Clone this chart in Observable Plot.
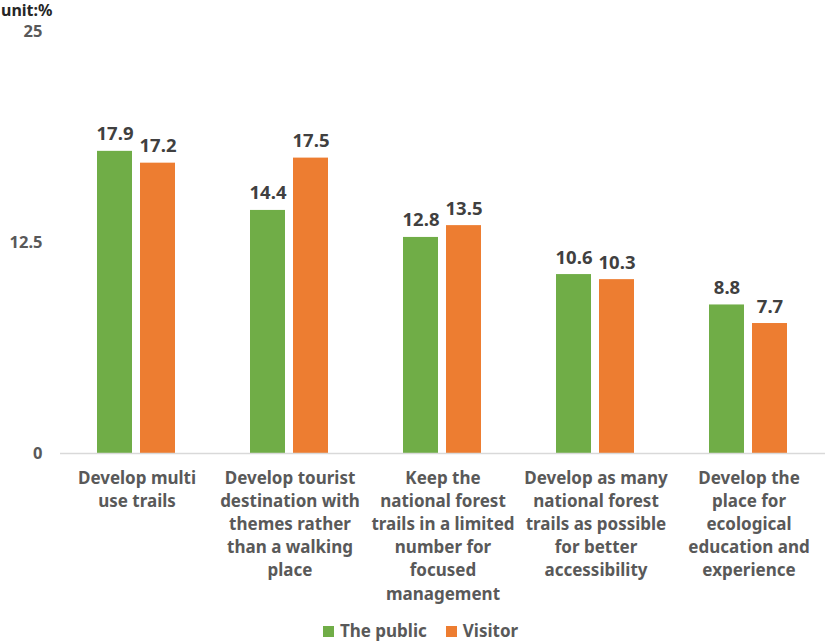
<!DOCTYPE html>
<html>
<head>
<meta charset="utf-8">
<script src="https://cdn.jsdelivr.net/npm/d3@7"></script>
<script src="https://cdn.jsdelivr.net/npm/@observablehq/plot@0.6"></script>
<style>
  body { margin: 0; background: #fff; font-family: "Noto Sans", sans-serif; }
  #wrap { position: relative; width: 827px; }
  #unit { position: absolute; left: 1px; top: 2px; font-size: 16px; line-height: 16px; font-weight: bold; color: #262626; }
  #legend { display: flex; justify-content: center; gap: 19px; margin-top: 9px; padding-left: 14px;
            font-size: 17px; font-weight: bold; color: #595959; }
  #legend span.sw { display: inline-block; width: 11px; height: 11px; margin-right: 6px; vertical-align: middle; position: relative; top: -1px; }
</style>
</head>
<body>
<div id="wrap">
  <div id="unit">unit:%</div>
  <div id="chart"></div>
  <div id="legend"></div>
</div>
<script>
const categories = [
  "Develop multi use trails",
  "Develop tourist destination with themes rather than a walking place",
  "Keep the national forest trails in a limited number for focused management",
  "Develop as many national forest trails as possible for better accessibility",
  "Develop the place for ecological education and experience"
];
const categoryLabels = [
  "Develop multi\nuse trails",
  "Develop tourist\ndestination with\nthemes rather\nthan a walking\nplace",
  "Keep the\nnational forest\ntrails in a limited\nnumber for\nfocused\nmanagement",
  "Develop as many\nnational forest\ntrails as possible\nfor better\naccessibility",
  "Develop the\nplace for\necological\neducation and\nexperience"
];
const seriesNames = ["The public", "Visitor"];
const publicValues = [17.9, 14.4, 12.8, 10.6, 8.8];
const visitorValues = [17.2, 17.5, 13.5, 10.3, 7.7];
const seriesColors = ["#70AD47", "#ED7D31"];
const yTicks = [0, 12.5, 25];

const data = [];
categories.forEach((c, i) => {
  data.push({category: c, series: seriesNames[0], value: publicValues[i]});
  data.push({category: c, series: seriesNames[1], value: visitorValues[i]});
});
const labelOf = new Map(categories.map((c, i) => [c, categoryLabels[i]]));

const plot = Plot.plot({
  width: 827,
  height: 610,
  marginLeft: 60,
  marginRight: 2,
  marginTop: 31,
  marginBottom: 157,
  style: {fontFamily: "Noto Sans, sans-serif", background: "#fff"},
  fx: {domain: categories, padding: 0, axis: null},
  x: {domain: seriesNames, paddingInner: 0.186, paddingOuter: 0.872, axis: null},
  y: {domain: [0, 25], axis: null},
  color: {domain: seriesNames, range: seriesColors},
  marks: [
    Plot.axisY({ticks: yTicks, tickSize: 0, tickPadding: 18, tickFormat: d => String(d), label: null,
                fontSize: 16.5, fontWeight: "bold", fill: "#595959"}),
    Plot.barY(data, {fx: "category", x: "series", y: "value", fill: "series"}),
    Plot.ruleY([0], {stroke: "#d9d9d9", strokeWidth: 1.3}),
    Plot.text(data, {fx: "category", x: "series", y: "value", text: d => d.value.toFixed(1),
                     lineAnchor: "bottom", dy: -11, fontSize: 18.5, fontWeight: "bold", fill: "#404040"}),
    Plot.text(categories, {fx: d => d, text: d => labelOf.get(d), frameAnchor: "bottom",
                           lineAnchor: "top", dy: 14, lineHeight: 1.36, fontSize: 17, fontWeight: "bold", fill: "#595959"})
  ]
});
document.getElementById("chart").appendChild(plot);

const legend = document.getElementById("legend");
seriesNames.forEach((s, i) => {
  const item = document.createElement("div");
  item.innerHTML = `<span class="sw" style="background:${seriesColors[i]}"></span>${s}`;
  legend.appendChild(item);
});
</script>
</body>
</html>
